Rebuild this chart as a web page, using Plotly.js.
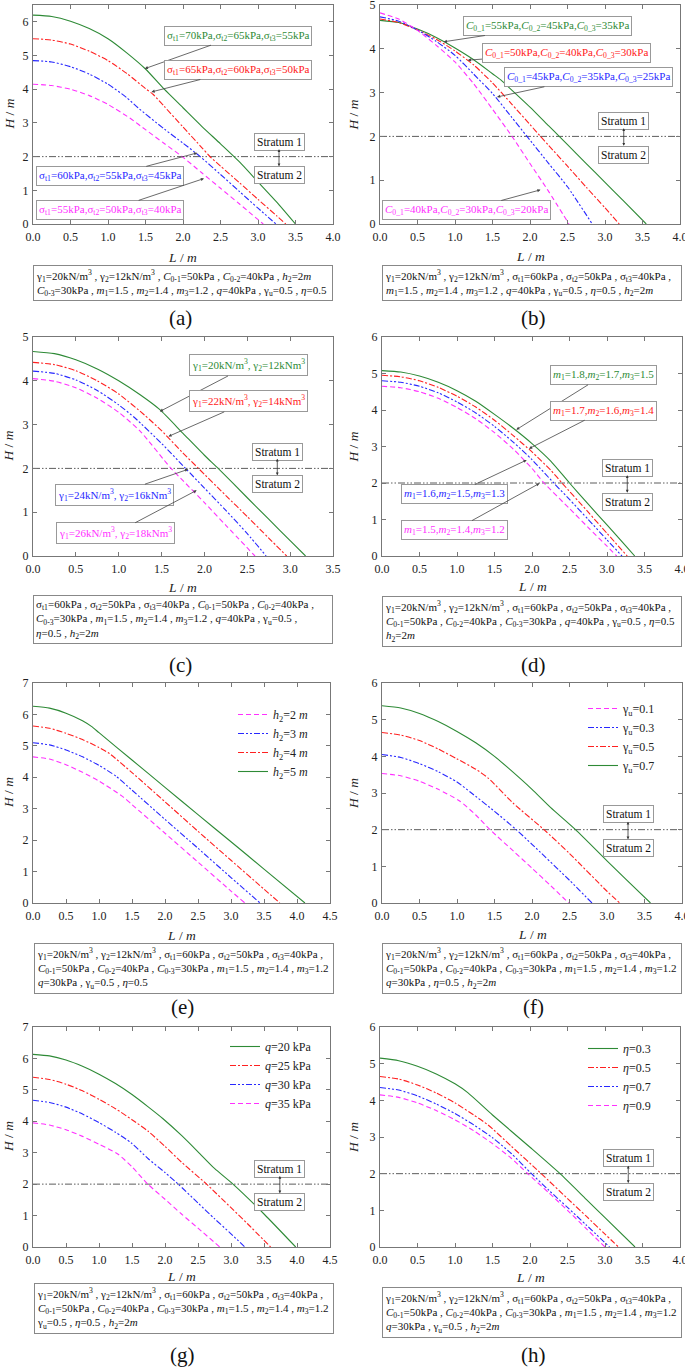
<!DOCTYPE html>
<html><head><meta charset="utf-8">
<script src="https://cdn.plot.ly/plotly-3.0.1.min.js"></script>
<style>html,body{margin:0;padding:0;background:#fff}#chart{width:685px;height:1367px}</style>
</head><body><div id="chart"></div>
<script>
// ---------------- DATA ----------------
// (a) tensile strength sigma_t
const aX_g = [0,0.25,0.5,0.75,1.0,1.25,1.5,1.75,2.0,2.25,2.5,2.75,3.0,3.25,3.5];
const aY_g = [6.2,6.16,6.02,5.8,5.5,5.08,4.6,4.0,3.45,2.9,2.38,1.85,1.25,0.65,0];
const aX_r = [0,0.25,0.5,0.75,1.0,1.25,1.5,1.6,1.75,2.0,2.25,2.36,2.5,2.75,3.0,3.25,3.37];
const aY_r = [5.5,5.46,5.34,5.13,4.85,4.47,4.02,3.85,3.49,2.88,2.27,2.0,1.72,1.23,0.73,0.24,0];
const aX_b = [0,0.25,0.5,0.75,1.0,1.25,1.4,1.75,2.0,2.23,2.5,2.75,3.0,3.24];
const aY_b = [4.85,4.81,4.67,4.45,4.15,3.75,3.45,2.82,2.4,2.0,1.47,0.97,0.47,0];
const aX_m = [0,0.25,0.5,0.75,1.0,1.3,1.5,1.75,1.99,2.25,2.5,2.75,3.07];
const aY_m = [4.15,4.11,4.0,3.81,3.55,3.13,2.8,2.39,2.0,1.52,1.06,0.6,0];
// (b) cohesion C0
const bX_g = [0,0.25,0.5,0.75,1.0,1.25,1.5,1.61,1.75,2.0,2.25,2.39,2.5,2.75,3.0,3.25,3.55];
const bY_g = [4.65,4.6,4.45,4.26,4.02,3.75,3.43,3.29,3.07,2.67,2.24,2.0,1.81,1.38,0.95,0.52,0];
const bX_r = [0,0.25,0.5,0.75,1.0,1.25,1.5,1.75,2.0,2.14,2.25,2.5,2.75,3.0,3.19];
const bY_r = [4.68,4.6,4.43,4.22,3.95,3.63,3.22,2.75,2.27,2.0,1.79,1.32,0.84,0.37,0];
const bX_b = [0,0.25,0.5,0.75,1.0,1.25,1.5,1.75,1.96,2.25,2.5,2.83];
const bY_b = [4.73,4.63,4.43,4.17,3.85,3.42,2.98,2.45,2.0,1.38,0.85,0];
const bX_m = [0,0.25,0.5,0.75,1.0,1.25,1.5,1.76,2.0,2.25,2.52];
const bY_m = [4.82,4.68,4.42,4.08,3.7,3.2,2.62,2.0,1.38,0.74,0];
// (c) unit weights gamma
const cX_g = [0,0.25,0.5,0.75,1.0,1.25,1.48,1.75,2.0,2.16,2.5,2.75,3.0,3.18];
const cY_g = [4.67,4.62,4.48,4.27,4.0,3.68,3.34,2.8,2.3,2.0,1.33,0.84,0.35,0];
const cX_r = [0,0.25,0.5,0.75,1.0,1.3,1.5,1.75,1.93,2.25,2.5,2.75,2.96];
const cY_r = [4.42,4.37,4.23,4.0,3.7,3.22,2.86,2.35,2.0,1.38,0.9,0.41,0];
const cX_b = [0,0.25,0.5,0.75,1.0,1.19,1.5,1.78,2.0,2.25,2.5,2.72];
const cY_b = [4.22,4.17,4.02,3.78,3.45,3.15,2.57,2.0,1.55,1.04,0.51,0];
const cX_m = [0,0.25,0.5,0.75,1.0,1.25,1.61,1.75,2.0,2.25,2.59];
const cY_m = [4.05,3.99,3.84,3.6,3.28,2.85,2.0,1.72,1.22,0.7,0];
// (d) slope ratios m
const dX_g = [0,0.25,0.5,0.75,1.0,1.25,1.5,1.75,2.0,2.25,2.5,2.75,3.0,3.25,3.37];
const dY_g = [5.08,5.04,4.93,4.76,4.53,4.24,3.88,3.5,3.08,2.6,2.0,1.42,0.85,0.28,0];
const dX_r = [0,0.25,0.5,0.75,1.0,1.25,1.5,1.75,2.0,2.25,2.4,2.75,3.0,3.27];
const dY_r = [4.95,4.91,4.8,4.62,4.38,4.08,3.72,3.3,2.85,2.35,2.0,1.2,0.62,0];
const dX_b = [0,0.25,0.5,0.75,1.0,1.25,1.5,1.75,2.0,2.29,2.5,2.75,3.0,3.2];
const dY_b = [4.8,4.76,4.65,4.47,4.22,3.92,3.55,3.12,2.64,2.0,1.55,1.0,0.44,0];
const dX_m = [0,0.25,0.5,0.75,1.0,1.25,1.5,1.75,2.0,2.16,2.5,2.75,3.0,3.13];
const dY_m = [4.65,4.61,4.5,4.32,4.07,3.76,3.38,2.93,2.4,2.0,1.3,0.78,0.27,0];
// (e) thickness h2
const eX_5 = [0,0.25,0.5,0.75,0.885,1.0,1.5,2.0,2.5,3.0,3.5,4.12];
const eY_5 = [6.26,6.2,6.04,5.8,5.62,5.42,4.55,3.68,2.81,1.95,1.08,0];
const eX_4 = [0,0.25,0.5,0.75,1.0,1.16,1.5,2.0,2.5,3.0,3.5,3.74];
const eY_4 = [5.63,5.56,5.4,5.2,4.95,4.75,4.15,3.22,2.28,1.36,0.44,0];
const eX_3 = [0,0.25,0.5,0.75,1.0,1.26,1.5,2.0,2.5,3.0,3.44];
const eY_3 = [5.1,5.03,4.87,4.65,4.38,4.03,3.59,2.66,1.74,0.81,0];
const eX_2 = [0,0.25,0.5,0.75,1.0,1.37,1.5,2.0,2.5,3.0,3.21];
const eY_2 = [4.65,4.58,4.4,4.16,3.88,3.37,3.13,2.22,1.3,0.38,0];
// (f) gamma_u
const fX_7 = [0,0.25,0.5,0.75,1.0,1.25,1.5,1.69,2.0,2.25,2.58,3.0,3.25,3.58];
const fY_7 = [5.38,5.32,5.17,4.95,4.68,4.37,4.0,3.67,3.1,2.6,2.0,1.15,0.65,0];
const fX_5 = [0,0.25,0.5,0.75,1.0,1.25,1.42,1.75,2.16,2.5,3.0,3.17];
const fY_5 = [4.65,4.58,4.43,4.2,3.93,3.65,3.4,2.72,2.0,1.35,0.32,0];
const fX_3 = [0,0.25,0.5,0.75,1.0,1.18,1.5,1.79,2.0,2.5,2.8];
const fY_3 = [4.05,3.97,3.8,3.58,3.3,3.02,2.5,2.0,1.6,0.62,0];
const fX_1 = [0,0.25,0.5,0.75,1.03,1.25,1.44,1.75,2.0,2.25,2.49];
const fY_1 = [3.53,3.47,3.32,3.1,2.79,2.4,2.0,1.42,0.95,0.47,0];
// (g) surcharge q
const gX_20 = [0,0.25,0.5,0.75,1.0,1.25,1.5,1.75,1.97,2.25,2.5,2.75,3.03,3.5,3.98];
const gY_20 = [6.13,6.08,5.95,5.75,5.5,5.2,4.85,4.45,4.08,3.55,3.03,2.5,2.0,1.05,0];
const gX_25 = [0,0.25,0.5,0.75,1.0,1.25,1.5,1.74,2.0,2.25,2.63,3.0,3.25,3.6];
const gY_25 = [5.4,5.33,5.18,4.97,4.7,4.4,4.05,3.69,3.2,2.7,2.0,1.25,0.74,0];
const gX_30 = [0,0.25,0.5,0.75,1.0,1.25,1.49,1.75,2.0,2.2,2.5,2.75,3.0,3.21];
const gY_30 = [4.67,4.6,4.45,4.23,3.96,3.65,3.31,2.8,2.37,2.0,1.4,0.9,0.42,0];
const gX_35 = [0,0.25,0.5,0.75,1.0,1.29,1.5,1.74,2.0,2.25,2.5,2.83];
const gY_35 = [3.95,3.88,3.73,3.52,3.27,2.95,2.55,2.0,1.52,1.05,0.6,0];
// (h) eta
const hX_3 = [0,0.25,0.5,0.75,1.0,1.17,1.5,2.0,2.4,2.75,3.0,3.4];
const hY_3 = [5.15,5.08,4.93,4.72,4.45,4.21,3.6,2.72,2.0,1.3,0.8,0];
const hX_5 = [0,0.25,0.5,0.75,1.0,1.25,1.44,1.75,2.15,2.5,2.75,3.0,3.18];
const hY_5 = [4.65,4.58,4.42,4.2,3.93,3.6,3.33,2.75,2.0,1.32,0.84,0.35,0];
const hX_7 = [0,0.25,0.5,0.75,1.0,1.25,1.5,1.75,2.02,2.25,2.5,2.75,3.06];
const hY_7 = [4.35,4.28,4.12,3.9,3.64,3.33,2.98,2.55,2.0,1.55,1.08,0.6,0];
const hX_9 = [0,0.25,0.5,0.75,1.0,1.25,1.5,1.75,1.97,2.25,2.5,2.75,3.0];
const hY_9 = [4.15,4.08,3.93,3.72,3.47,3.17,2.82,2.42,2.0,1.48,1.0,0.5,0];

const stratumDepth = 2; // H of the stratum interface (m)

// labels
const xTitle = '<i>L</i> / <i>m</i>', yTitle = '<i>H</i> / <i>m</i>';
const aLabels = ['σ<sub>t1</sub>=70kPa,σ<sub>t2</sub>=65kPa,σ<sub>t3</sub>=55kPa','σ<sub>t1</sub>=65kPa,σ<sub>t2</sub>=60kPa,σ<sub>t3</sub>=50kPa','σ<sub>t1</sub>=60kPa,σ<sub>t2</sub>=55kPa,σ<sub>t3</sub>=45kPa','σ<sub>t1</sub>=55kPa,σ<sub>t2</sub>=50kPa,σ<sub>t3</sub>=40kPa'];
const C = (a,b,c)=>'<i>C</i><sub>0_1</sub>='+a+'kPa,<i>C</i><sub>0_2</sub>='+b+'kPa,<i>C</i><sub>0_3</sub>='+c+'kPa';
const bLabels = [C(55,45,35),C(50,40,30),C(45,35,25),C(40,30,20)];
const G = (a,b)=>'γ<sub>1</sub>='+a+'kN/m<sup>3</sup>, γ<sub>2</sub>='+b+'kNm<sup>3</sup>';
const cLabels = [G(20,12),G(22,14),G(24,16),G(26,18)];
const M = (a,b,c)=>'<i>m</i><sub>1</sub>='+a+',<i>m</i><sub>2</sub>='+b+',<i>m</i><sub>3</sub>='+c;
const dLabels = [M('1.8','1.7','1.5'),M('1.7','1.6','1.4'),M('1.6','1.5','1.3'),M('1.5','1.4','1.2')];
const eNames = ['<i>h</i><sub>2</sub>=2 <i>m</i>','<i>h</i><sub>2</sub>=3 <i>m</i>','<i>h</i><sub>2</sub>=4 <i>m</i>','<i>h</i><sub>2</sub>=5 <i>m</i>'];
const fNames = ['γ<sub>u</sub>=0.1','γ<sub>u</sub>=0.3','γ<sub>u</sub>=0.5','γ<sub>u</sub>=0.7'];
const gNames = ['<i>q</i>=20 kPa','<i>q</i>=25 kPa','<i>q</i>=30 kPa','<i>q</i>=35 kPa'];
const hNames = ['<i>η</i>=0.3','<i>η</i>=0.5','<i>η</i>=0.7','<i>η</i>=0.9'];

// parameter text
const g1 = 'γ<sub>1</sub>=20kN/m<sup>3</sup> , γ<sub>2</sub>=12kN/m<sup>3</sup>';
const sig = 'σ<sub>t1</sub>=60kPa , σ<sub>t2</sub>=50kPa , σ<sub>t3</sub>=40kPa';
const c01 = '<i>C</i><sub>0-1</sub>=50kPa', c02='<i>C</i><sub>0-2</sub>=40kPa', c03='<i>C</i><sub>0-3</sub>=30kPa';
const mm = '<i>m</i><sub>1</sub>=1.5 , <i>m</i><sub>2</sub>=1.4 , <i>m</i><sub>3</sub>=1.2';
const gu = 'γ<sub>u</sub>=0.5', eta='<i>η</i>=0.5', h2='<i>h</i><sub>2</sub>=2<i>m</i>';
const paramText = {
 a: g1+' , '+c01+' , '+c02+' , '+h2+'<br>'+c03+' , '+mm+' , <i>q</i>=40kPa , '+gu+' , '+eta,
 b: g1+' , '+sig+' ,<br>'+mm+' , <i>q</i>=40kPa , '+gu+' , '+eta+' , '+h2,
 c: sig+' , '+c01+' , '+c02+' ,<br>'+c03+' , '+mm+' , <i>q</i>=40kPa , '+gu+' ,<br>'+eta+' , '+h2,
 d: g1+' , '+sig+' ,<br>'+c01+' , '+c02+' , '+c03+' , <i>q</i>=40kPa , '+gu+' , '+eta+'<br>'+h2,
 e: g1+' , '+sig+' ,<br>'+c01+' , '+c02+' , '+c03+' , '+mm+'<br><i>q</i>=30kPa , '+gu+' , '+eta,
 f: g1+' , '+sig+' ,<br>'+c01+' , '+c02+' , '+c03+' , '+mm+'<br><i>q</i>=30kPa , '+eta+' , '+h2,
 g: g1+' , '+sig+' ,<br>'+c01+' , '+c02+' , '+c03+' , '+mm+'<br>'+gu+' , '+eta+' , '+h2,
 h: g1+' , '+sig+' ,<br>'+c01+' , '+c02+' , '+c03+' , '+mm+'<br><i>q</i>=30kPa , '+gu+' , '+h2
};

// ---------------- STYLE / LAYOUT ----------------
const W=685, H=1367;
const FONT='"Liberation Serif", "Times New Roman", serif';
const GREEN='#2e8a36', RED='#ff2020', BLUE='#2828ff', MAG='#ff30ff';
const DS={solid:'solid', dashdot:'6px,2px,2px,2px', dashdotdot:'6px,2px,2px,2px,2px,2px', dash:'5px,3px'};
const sty={g:[GREEN,DS.solid], r:[RED,DS.dashdot], b:[BLUE,DS.dashdotdot], m:[MAG,DS.dash]};

const panels = [
 {k:'a', xd:[33,333], yd:[5,224], xr:[0,4], yr:[0,6.5], box:[33,265], lab:[180,318], tt:[33,24], strat:[3.28,2.44,1.45],
  series:[[aX_g,aY_g,'g'],[aX_r,aY_r,'r'],[aX_b,aY_b,'b'],[aX_m,aY_m,'m']], labels:aLabels,
  ann:[[1.49,4.61,2.73,5.59],[1.58,3.92,2.73,4.57],[2.19,2.11,1.03,1.43],[2.28,1.35,1.03,0.42]]},
 {k:'b', xd:[380,680], yd:[5,224], xr:[0,4], yr:[0,5], box:[382,265], lab:[533,318], tt:[32,27], strat:[3.25,2.36,1.58],
  series:[[bX_g,bY_g,'g'],[bX_r,bY_r,'r'],[bX_b,bY_b,'b'],[bX_m,bY_m,'m']], labels:bLabels,
  ann:[[0.85,4.16,2.23,4.52],[1.17,3.74,2.48,3.91],[1.56,2.9,2.78,3.35],[2.14,0.78,1.15,0.32]]},
 {k:'c', xd:[33,333], yd:[337,556], xr:[0,3.5], yr:[0,5], box:[33,595], lab:[180,665], tt:[31,25], strat:[2.85,2.38,1.65],
  series:[[cX_g,cY_g,'g'],[cX_r,cY_r,'r'],[cX_b,cY_b,'b'],[cX_m,cY_m,'m']], labels:cLabels,
  ann:[[1.48,3.3,2.51,4.35],[1.58,2.73,2.51,3.53],[1.81,1.98,0.95,1.4],[1.91,1.5,0.96,0.52]]},
 {k:'d', xd:[382,682], yd:[337,556], xr:[0,4], yr:[0,6], box:[382,596], lab:[533,665], tt:[30,29], strat:[3.27,2.42,1.49],
  series:[[dX_g,dY_g,'g'],[dX_r,dY_r,'r'],[dX_b,dY_b,'b'],[dX_m,dY_m,'m']], labels:dLabels,
  ann:[[1.79,3.46,2.95,4.95],[1.96,2.94,2.95,3.98],[1.93,2.63,0.97,1.7],[2.1,1.99,0.97,0.71]]},
 {k:'e', xd:[33,330], yd:[683,903], xr:[0,4.5], yr:[0,7], box:[34,943], lab:[182,1007], tt:[32,25], strat:null,
  series:[[eX_2,eY_2,'m'],[eX_3,eY_3,'b'],[eX_4,eY_4,'r'],[eX_5,eY_5,'g']], names:eNames, legend:[233,700]},
 {k:'f', xd:[382,682], yd:[683,903], xr:[0,4], yr:[0,6], box:[382,943], lab:[533,1007], tt:[31,29], strat:[3.28,2.42,1.49],
  series:[[fX_1,fY_1,'m'],[fX_3,fY_3,'b'],[fX_5,fY_5,'r'],[fX_7,fY_7,'g']], names:fNames, legend:[583,694]},
 {k:'g', xd:[33,330], yd:[1027,1247], xr:[0,4.5], yr:[0,7], box:[34,1283], lab:[182,1355], tt:[29,25], strat:[3.74,2.49,1.43],
  series:[[gX_20,gY_20,'g'],[gX_25,gY_25,'r'],[gX_30,gY_30,'b'],[gX_35,gY_35,'m']], names:gNames, legend:[225,1032]},
 {k:'h', xd:[380,680], yd:[1027,1247], xr:[0,4], yr:[0,6], box:[382,1287], lab:[533,1355], tt:[30,27], strat:[3.31,2.42,1.5],
  series:[[hX_3,hY_3,'g'],[hX_5,hY_5,'r'],[hX_7,hY_7,'b'],[hX_9,hY_9,'m']], names:hNames, legend:[583,1034]}
];

const traces=[], annotations=[];
const layout={width:W,height:H,margin:{l:0,r:0,t:0,b:0},paper_bgcolor:'#fff',plot_bgcolor:'#fff',
  font:{family:FONT,size:12,color:'#111'},showlegend:true,annotations:annotations};
let legendIdx=0;
panels.forEach((p,i)=>{
  const n=i+1, xs=n===1?'':String(n);
  const xa='x'+xs, ya='y'+xs;
  const axCommon={showline:true,linecolor:'#777',linewidth:1,mirror:'ticks',ticks:'inside',ticklen:4,tickcolor:'#777',
    showgrid:false,zeroline:false,tickfont:{family:FONT,size:12,color:'#222'},fixedrange:true,ticklabeloverflow:'allow'};
  layout['xaxis'+xs]=Object.assign({},axCommon,{domain:[p.xd[0]/W,p.xd[1]/W],anchor:ya,range:p.xr,dtick:0.5,tick0:0,tickformat:'.1f',
    ticklabelstandoff:2});
  layout['yaxis'+xs]=Object.assign({},axCommon,{domain:[1-p.yd[1]/H,1-p.yd[0]/H],anchor:xa,range:p.yr,dtick:1,tick0:0,
    ticklabelstandoff:1});
  // axis titles
  annotations.push({xref:'paper',yref:'paper',x:(p.xd[0]+p.xd[1])/2/W,y:1-(p.yd[1]+p.tt[0])/H,xanchor:'center',yanchor:'middle',
    text:xTitle,showarrow:false,font:{family:FONT,size:13.5,color:'#222'}});
  annotations.push({xref:'paper',yref:'paper',x:(p.xd[0]-p.tt[1])/W,y:1-(p.yd[0]+p.yd[1])/2/H,xanchor:'center',yanchor:'middle',
    text:yTitle,textangle:-90,showarrow:false,font:{family:FONT,size:13.5,color:'#222'}});
  let legName=null;
  if(p.names){ legendIdx++; legName= legendIdx===1?'legend':'legend'+legendIdx;
    layout[legName]={x:p.legend[0]/W,y:1-p.legend[1]/H,xanchor:'left',yanchor:'top',bgcolor:'rgba(0,0,0,0)',borderwidth:0,
      font:{family:FONT,size:12,color:'#222'},itemwidth:30,tracegroupgap:0};
  }
  if(p.strat){
    traces.push({x:p.xr,y:[stratumDepth,stratumDepth],xaxis:xa,yaxis:ya,mode:'lines',showlegend:false,hoverinfo:'skip',
      line:{color:'#333',width:0.8,dash:'7px,2px,1.5px,2px,1.5px,2px'}});
  }
  p.series.forEach((s,j)=>{
    const st=sty[s[2]];
    const t={x:s[0],y:s[1],xaxis:xa,yaxis:ya,mode:'lines',line:{color:st[0],width:1.1,dash:st[1],shape:'spline',smoothing:0.6},showlegend:!!p.names};
    if(p.names){t.name=p.names[j];t.legend=legName;}
    traces.push(t);
  });
  if(p.labels){
    p.ann.forEach((a,j)=>{
      const col=sty[p.series[j][2]][0];
      annotations.push({xref:xa,yref:ya,axref:xa,ayref:ya,x:a[0],y:a[1],ax:a[2],ay:a[3],text:p.labels[j],
        font:{family:FONT,size:11,color:col},showarrow:true,arrowhead:2,arrowsize:0.8,arrowwidth:0.8,arrowcolor:'#444',
        bordercolor:'#999',borderwidth:1,borderpad:2,bgcolor:'#fff'});
    });
  }
  if(p.strat){
    const [sx,s1,s2]=p.strat;
    annotations.push({xref:xa,yref:ya,x:sx,y:s1,text:'Stratum 1',showarrow:false,font:{family:FONT,size:11.5,color:'#111'},
      bordercolor:'#999',borderwidth:1,borderpad:2,bgcolor:'#fff'});
    annotations.push({xref:xa,yref:ya,x:sx,y:s2,text:'Stratum 2',showarrow:false,font:{family:FONT,size:11.5,color:'#111'},
      bordercolor:'#999',borderwidth:1,borderpad:2,bgcolor:'#fff'});
    const gap=(s1-s2);
    annotations.push({xref:xa,yref:ya,axref:xa,ayref:ya,x:sx,y:s1-gap*0.22,ax:sx,ay:s2+gap*0.22,text:'',showarrow:true,
      arrowhead:2,startarrowhead:2,arrowside:'end+start',arrowsize:0.7,startarrowsize:0.7,arrowwidth:0.8,arrowcolor:'#333'});
  }
  annotations.push({xref:'paper',yref:'paper',x:p.box[0]/W,y:1-p.box[1]/H,xanchor:'left',yanchor:'top',align:'left',
    text:paramText[p.k],showarrow:false,width:294,font:{family:FONT,size:11,color:'#111'},bordercolor:'#888',borderwidth:1,borderpad:2,bgcolor:'#fff'});
  annotations.push({xref:'paper',yref:'paper',x:p.lab[0]/W,y:1-p.lab[1]/H,xanchor:'center',yanchor:'middle',
    text:'('+p.k+')',showarrow:false,font:{family:FONT,size:21,color:'#111'}});
});

Plotly.newPlot('chart',traces,layout,{staticPlot:true,displayModeBar:false});
</script></body></html>
